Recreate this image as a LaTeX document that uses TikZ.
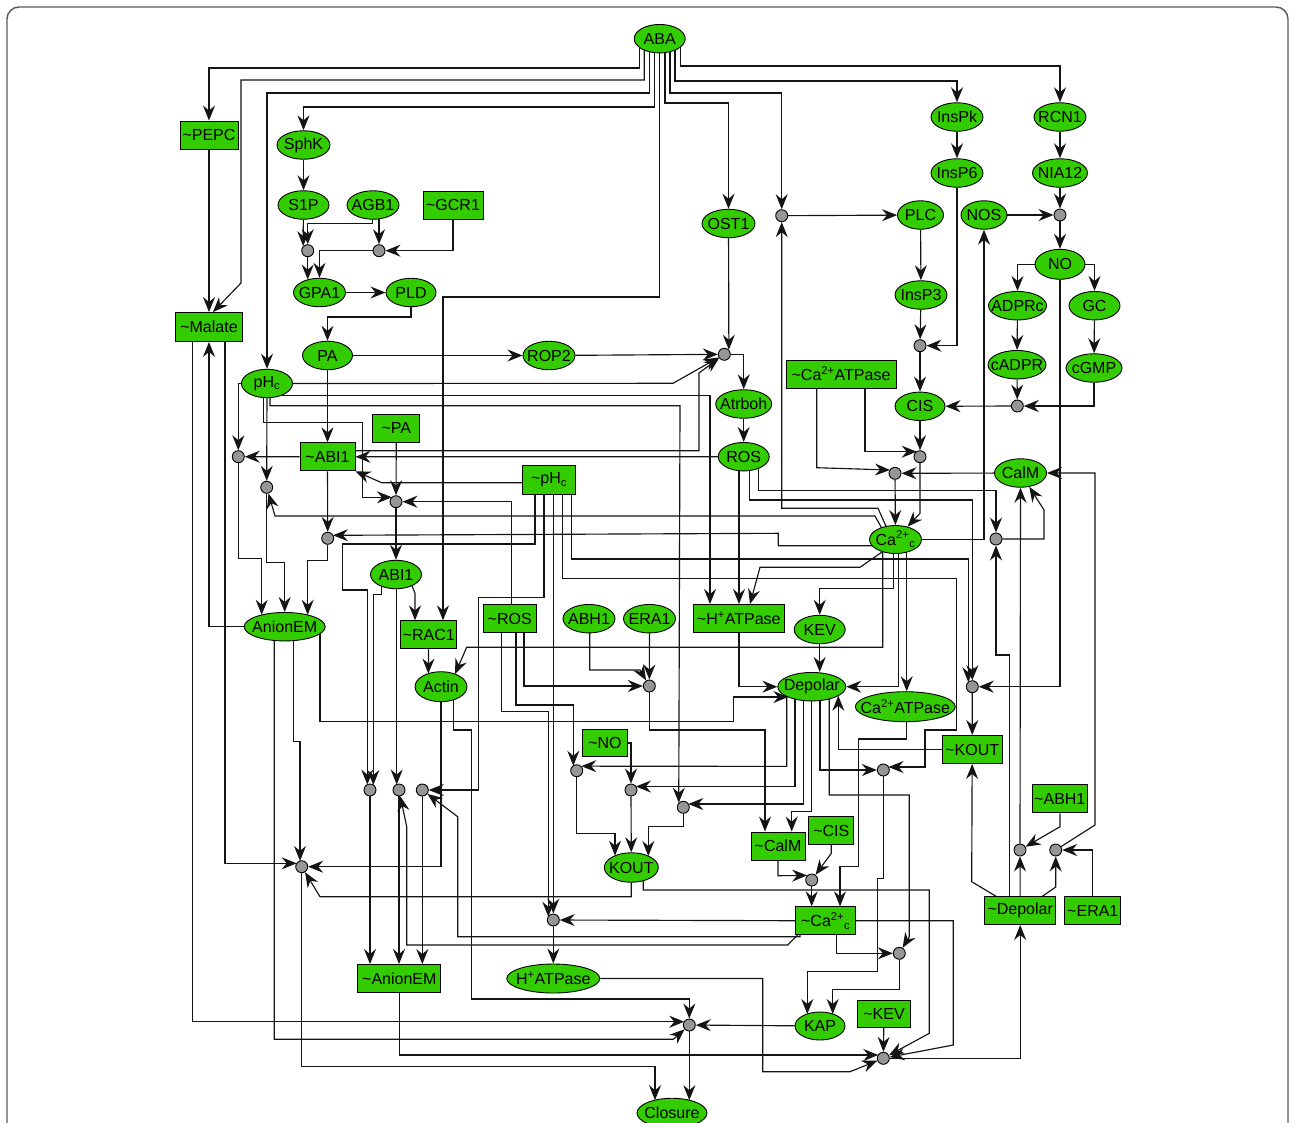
\documentclass[tikz,border=0pt]{standalone}
\usepackage{fontspec}
\setmainfont{Liberation Sans}
\usetikzlibrary{arrows.meta,shapes.geometric,calc,backgrounds}
\definecolor{ngreen}{RGB}{51,204,0}
\definecolor{jgray}{RGB}{150,150,150}
\definecolor{lcol}{RGB}{20,20,20}
\newcommand\tld{\textasciitilde}
\newcommand\nodefnt{\fontsize{16}{18}\selectfont}
\tikzset{
 ov/.style={ellipse, draw=black, line width=0.9pt, fill=ngreen, inner xsep=-12pt, inner ysep=-6pt, minimum height=28.5pt, font=\nodefnt},
 bx/.style={rectangle, draw=black, line width=0.9pt, fill=ngreen, inner xsep=2pt, inner ysep=0pt, minimum height=28pt, font=\nodefnt},
 jn/.style={circle, draw=black, line width=0.9pt, fill=jgray, inner sep=0pt, minimum size=12pt},
 ar/.style={-{Stealth[length=15pt,width=12pt,inset=5pt]}, line width=1.15pt, draw=lcol},
 frm/.style={line width=1.4pt, draw=black!65, rounded corners=12pt}
}
\begin{document}
\begin{tikzpicture}[x=1pt,y=-1pt]
\useasboundingbox (0,0) rectangle (1290,1122);
% ---------------- nodes
\node[ov,minimum width=51] (ABA) at (659.7,38.7) {ABA};
\node[bx,minimum width=58] (PEPC) at (209,135) {\tld PEPC};
\node[ov,minimum width=53] (SphK) at (303.5,145) {SphK};
\node[ov,minimum width=51] (S1P) at (303.5,205) {S1P};
\node[ov,minimum width=52] (AGB1) at (373,205) {AGB1};
\node[bx,minimum width=60] (GCR1) at (453,205) {\tld GCR1};
\node[ov,minimum width=52] (GPA1) at (319.5,292.5) {GPA1};
\node[ov,minimum width=50] (PLD) at (411,292.5) {PLD};
\node[bx,minimum width=67,minimum height=29] (Malate) at (209,327) {\tld Malate};
\node[ov,minimum width=50] (PA) at (327.5,355.5) {PA};
\node[ov,minimum width=52] (ROP2) at (549,355.5) {ROP2};
\node[ov,minimum width=51] (pHc) at (267,383.5) {pH\textsubscript{c}};
\node[bx,minimum width=47] (tPA) at (396.3,428) {\tld PA};
\node[bx,minimum width=55] (tABI1) at (327.5,456.8) {\tld ABI1};
\node[bx,minimum width=53,minimum height=29] (tpHc) at (549,479.7) {\tld pH\textsubscript{c}};
\node[ov,minimum width=51] (ABI1) at (396,574.5) {ABI1};
\node[ov,minimum width=81] (AnionEM) at (284.7,626.7) {AnionEM};
\node[bx,minimum width=56] (RAC1) at (428.7,634.8) {\tld RAC1};
\node[ov,minimum width=52,minimum height=30] (Actin) at (441,686.7) {Actin};
\node[bx,minimum width=53] (tROS) at (509.7,618.5) {\tld ROS};
\node[ov,minimum width=52] (ABH1) at (589,618.7) {ABH1};
\node[ov,minimum width=52] (ERA1) at (649.5,618.7) {ERA1};
\node[bx,minimum width=91] (tHATP) at (738.8,618.5) {\tld H\textsuperscript{+}ATPase};
\node[ov,minimum width=51] (KEV) at (819.7,629.5) {KEV};
\node[ov,minimum width=68] (Depolar) at (811.8,686.7) {Depolar};
\node[ov,minimum width=100,minimum height=30] (CaATP) at (905.3,706.7) {Ca\textsuperscript{2+}ATPase};
\node[bx,minimum width=60] (tKOUT) at (972.2,749.5) {\tld KOUT};
\node[ov,minimum width=53] (OST1) at (728.5,223.5) {OST1};
\node[ov,minimum width=46] (PLC) at (920.5,215) {PLC};
\node[ov,minimum width=52] (InsPk) at (957,117) {InsPk};
\node[ov,minimum width=52] (InsP6) at (957,173) {InsP6};
\node[ov,minimum width=52] (RCN1) at (1060,117) {RCN1};
\node[ov,minimum width=55] (NIA12) at (1060,173) {NIA12};
\node[ov,minimum width=46] (NOS) at (984,215) {NOS};
\node[ov,minimum width=50,minimum height=30] (NO) at (1060,264.3) {NO};
\node[ov,minimum width=58] (ADPRc) at (1017.5,305.7) {ADPRc};
\node[ov,minimum width=51] (GC) at (1094.5,305.7) {GC};
\node[ov,minimum width=58] (cADPR) at (1017,364.7) {cADPR};
\node[ov,minimum width=56] (cGMP) at (1094,368) {cGMP};
\node[ov,minimum width=52] (InsP3) at (921,295) {InsP3};
\node[bx,minimum width=110] (tCaATP) at (841,374) {\tld Ca\textsuperscript{2+}ATPase};
\node[ov,minimum width=50] (CIS) at (920,406.3) {CIS};
\node[ov,minimum width=56] (Atrboh) at (743.7,404) {Atrboh};
\node[ov,minimum width=51] (ROS) at (743.7,456.7) {ROS};
\node[ov,minimum width=52] (CalM) at (1020.5,473) {CalM};
\node[ov,minimum width=52,minimum height=28] (Cac) at (895.5,539.5) {Ca\textsuperscript{2+}\textsubscript{c}};
\node[bx,minimum width=45,minimum height=27] (tNO) at (605,743) {\tld NO};
\node[ov,minimum width=54,minimum height=29.5] (KOUT) at (631.3,867.5) {KOUT};
\node[bx,minimum width=54] (tCalM) at (778,846) {\tld CalM};
\node[bx,minimum width=45] (tCIS) at (831.3,830.5) {\tld CIS};
\node[bx,minimum width=60] (tCac) at (825.7,920.8) {\tld Ca\textsuperscript{2+}\textsubscript{c}};
\node[bx,minimum width=55] (tABH1) at (1059.8,798.8) {\tld ABH1};
\node[bx,minimum width=71] (tDepolar) at (1020.2,910.5) {\tld Depolar};
\node[bx,minimum width=56] (tERA1) at (1092.8,910.5) {\tld ERA1};
\node[bx,minimum width=83] (tAnionEM) at (399.3,978.5) {\tld AnionEM};
\node[ov,minimum width=93,minimum height=29] (HATP) at (553.3,978.5) {H\textsuperscript{+}ATPase};
\node[ov,minimum width=50,minimum height=28] (KAP) at (820,1026) {KAP};
\node[bx,minimum width=53,minimum height=27] (tKEV) at (884,1013.7) {\tld KEV};
\node[ov,minimum width=70,minimum height=29.5] (Closure) at (672,1113) {Closure};
% junctions
\node[jn] (j1) at (307.7,250.7) {};
\node[jn] (j2) at (379,250.7) {};
\node[jn] (j3) at (781.7,215.7) {};
\node[jn] (j4) at (1060,215) {};
\node[jn] (j5) at (724.3,354.3) {};
\node[jn] (j6) at (920,345.7) {};
\node[jn] (j7) at (1017.3,406) {};
\node[jn] (j8) at (920,456.7) {};
\node[jn] (j9) at (895,473.3) {};
\node[jn] (j10) at (238.3,456.7) {};
\node[jn] (j11) at (266.7,487.3) {};
\node[jn] (j12) at (396,501.7) {};
\node[jn] (j13) at (327.7,538.3) {};
\node[jn] (j14) at (996,539) {};
\node[jn] (j15) at (649.3,686) {};
\node[jn] (j16) at (972.3,686.7) {};
\node[jn] (j17) at (576.7,770.7) {};
\node[jn] (j18) at (631,790) {};
\node[jn] (j19) at (683.3,807.3) {};
\node[jn] (j20) at (883.3,770) {};
\node[jn] (j21) at (370,790) {};
\node[jn] (j22) at (399,790) {};
\node[jn] (j23) at (422.3,790) {};
\node[jn] (j24) at (301.7,866.7) {};
\node[jn] (j25) at (811.7,880) {};
\node[jn] (j26) at (1020,850) {};
\node[jn] (j27) at (1055.7,850) {};
\node[jn] (j28) at (553.3,920) {};
\node[jn] (j29) at (899.3,953.3) {};
\node[jn] (j30) at (689.3,1025) {};
\node[jn] (j31) at (883.3,1058.3) {};
% ---------------- connectors
\begin{scope}[on background layer]
\draw[frm] (7,7) rectangle (1288,1170);
% ABA fan
\draw[ar] ($(ABA)+(-20.5,0)$) |- (209,68) -- (PEPC);
\draw[ar] ($(ABA)+(-15.5,0)$) |- (241,80) -- (241,283) -- ($(Malate.north)+(4,0)$);
\draw[ar] ($(ABA)+(-10.5,0)$) |- (267,93) -- (pHc);
\draw[ar] ($(ABA)+(-5,0)$) |- (303.5,107) -- (SphK);
\draw[ar] (ABA) |- (443,297) -- ($(RAC1.north)+(14.3,0)$);
\draw[ar] ($(ABA)+(5.3,0)$) |- (728.5,103) -- (OST1);
\draw[ar] ($(ABA)+(10.3,0)$) |- (781.7,93) -- (j3);
\draw[ar] ($(ABA)+(15.3,0)$) |- (957,81) -- (InsPk);
\draw[ar] ($(ABA)+(20.5,0)$) |- (1060,66) -- (RCN1);
% upper left
\draw[ar] (PEPC) -- (Malate);
\draw[ar] (SphK) -- (S1P);
\draw[ar] (S1P) -- (j1.north west);
\draw[ar] ($(AGB1)+(-0.7,0)$) |- (307.7,223.3) -- (j1);
\draw[ar] ($(AGB1)+(6,0)$) -- (j2);
\draw[ar] (GCR1) |- (j2);
\draw[ar] (j1) -- ($(GPA1)+(-11.8,-12.9)$);
\draw[ar] (j2) -| (GPA1);
\draw[ar] (GPA1) -- (PLD);
\draw[ar] (PLD) |- (327.5,317) -- (PA);
\draw[ar] (PA) -- (ROP2);
\draw[ar] (PA) -- (tABI1);
\draw[ar] (ROP2) -- (j5);
\draw[ar] (OST1) -- (j5.north east);
\draw[ar] (j5) -| (Atrboh);
\draw[ar] (Atrboh) -- (ROS);
\draw[ar] (pHc) -- (673,383.3) -- (j5);
\draw[ar] ($(tABI1)+(0,-6)$) -- (699,450.8) -- (699,373) -- (j5);
\draw[ar] ($(pHc)+(10,12.2)$) -- (710,395.7) -- ($(tHATP.north)+(-28.8,0)$);
\draw[ar] ($(pHc)+(3,10)$) |- (680,405.7) -- (j19.north west);
\draw[ar] (pHc) -| (j10);
\draw[ar] (pHc) -- (j11);
\draw[ar] ($(pHc)+(-3.7,0)$) |- (362.7,422.7) -- (362.7,497.3) -- ($(j12)+(-4.1,-4.4)$);
\draw[ar] (tABI1) -- (j10);
\draw[ar] (ROS) -- (tABI1);
\draw[ar] ($(tpHc)+(0,3)$) -- (381.7,482.7) -- (tABI1.south east);
\draw[ar] (tPA) -- (j12);
\draw[ar] ($(tROS)+(2,0)$) |- (j12);
\draw[ar] (j12) -- (ABI1);
\draw[ar] (tABI1) -- (j13);
% Ca hub
\draw[ar] ($(Cac)+(-10,6.2)$) -- (778.3,545.7) -- (778.3,533.3) -- ($(j13)+(5.2,-3)$);
\draw[ar] ($(Cac)+(-13,-10)$) -- (875,516) -- (275,516) -- (j11);
\draw[ar] ($(Cac)+(-8,-10)$) -- (878,508.3) -- (781.7,508.3) -- (j3);
\draw[ar] ($(tCaATP)+(-24.3,0)$) -- (816.7,467.7) -- ($(j9)+(-5,-3.3)$);
\draw[ar] ($(tCaATP)+(24,0)$) -- (865,451.7) -- ($(j8)+(-3.3,-5)$);
\draw[ar] (CIS) -- (j8);
\draw[ar] (CalM) -- (j9);
\draw[ar] (j9) -- (Cac);
\draw[ar] (j8) -- (920,513.3) -- (Cac);
\draw[ar] (InsP3) -- (j6);
\draw[ar] (InsP6) |- (j6);
\draw[ar] (j6) -- (CIS);
\draw[ar] (PLC) -- (InsP3);
\draw[ar] (j3) -- (PLC);
\draw[ar] (InsPk) -- (InsP6);
\draw[ar] (RCN1) -- (NIA12);
\draw[ar] (NIA12) -- (j4);
\draw[ar] (NOS) -- (j4);
\draw[ar] (j4) -- (NO);
\draw[ar] (NO) -| (ADPRc);
\draw[ar] (NO) -| (GC);
\draw[ar] (ADPRc) -- (cADPR);
\draw[ar] (GC) -- (cGMP);
\draw[ar] (cADPR) -- (j7);
\draw[ar] (cGMP) |- (j7);
\draw[ar] (j7) -- (CIS);
\draw[ar] (Cac) -| (NOS);
\draw[ar] (NO) |- (j16);
\draw[ar] ($(ROS)+(5.6,0)$) |- (972.3,500) -- (j16);
\draw[ar] ($(ROS)+(14.6,0)$) |- (996,490.7) -- (j14);
\draw[ar] ($(ROS)+(-4.7,0)$) -- ($(tHATP.north)+(0.2,0)$);
\draw[ar] ($(tpHc)+(22.7,0)$) |- (968.3,559) -- ($(j16)+(-4,-4.5)$);
\draw[ar] ($(tpHc)+(13.3,0)$) |- (956.7,578.3) |- (925,730) |- ($(j20)+(5.2,-3)$);
\draw[ar] ($(tpHc)+(4.3,0)$) -- (j28);
\draw[ar] ($(tROS)+(-8,0)$) |- (548.3,711.7) -- ($(j28)+(-5,-3.3)$);
\draw[ar] ($(tROS)+(6.3,0)$) |- (573.3,705) -- ($(j17)+(-3.4,-4.9)$);
\draw[ar] ($(tROS)+(14.3,0)$) |- (j15);
\draw[ar] ($(ABH1)+(0.8,0)$) |- (640,670) -- (j15);
\draw[ar] (ERA1) -- (j15);
\draw[ar] (j15) |- (765,730) -- ($(tCalM.north)+(-13,0)$);
\draw[ar] ($(tHATP)+(0.2,0)$) |- (Depolar);
\draw[ar] (KEV) -- (KEV |- Depolar.north);
\draw[ar] ($(Cac)+(2.8,0)$) |- (Depolar);
\draw[ar] ($(AnionEM)+(35.3,0)$) |- (733.3,721.7) -- (733.3,697) -- ($(Depolar)+(-23.5,10.3)$);
\draw[ar] (tKOUT) -- (838.3,749.5) -- ($(Depolar)+(26.5,9.1)$);
\draw[ar] ($(Depolar)+(-25.1,0)$) -- (786.7,766.4) -- (j17.north east);
\draw[ar] ($(Depolar)+(-16.8,0)$) -- (795,786.5) -- ($(j18)+(4.9,-3.5)$);
\draw[ar] ($(Depolar)+(-8.5,0)$) -- (803.3,804) -- ($(j19)+(5,-3.3)$);
\draw[ar] (Depolar) |- (791.7,811.7) -- ($(tCalM.north)+(13.7,0)$);
\draw[ar] ($(Depolar)+(8.2,0)$) |- (j20);
\draw[ar] ($(Depolar)+(17.5,0)$) |- (909.3,795) -- (909.3,936.7) -- (j29);
\draw[ar] ($(Cac)+(-2.2,0)$) |- (819.7,588.3) -- (KEV);
\draw[ar] ($(Cac)+(-12.8,0)$) |- (466.7,647.3) -- ($(Actin)+(14,-12.6)$);
\draw[ar] ($(Cac)+(-7,8)$) -- (860,567.3) -- (760,567.3) -- ($(tHATP.north)+(11.2,0)$);
\draw[ar] ($(Cac)+(11.2,0)$) -- ($(CaATP.north)+(1.4,0)$);
% left column
\draw[ar] ($(tpHc)+(-14,0)$) |- (342.7,544) |- (367.3,590) -- ($(j21)+(-2.7,-5.4)$);
\draw[ar] ($(ABI1)+(-14.3,0)$) |- (373.3,594.3) -- ($(j21)+(3.3,-5)$);
\draw[ar] ($(ABI1)+(0.7,0)$) -- ($(j22)+(-2.3,-5.5)$);
\draw[ar] ($(ABI1)+(15.7,0)$) -- (411.7,585) -- (415,593.3) -- ($(RAC1.north)+(-13.7,0)$);
\draw[ar] (RAC1) -- ($(Actin)+(-12.7,-13.1)$);
\draw[ar] (j10) |- (261.7,558.3) -- ($(AnionEM)+(-23,-11.9)$);
\draw[ar] (j11) |- (284.7,562.7) -- (AnionEM);
\draw[ar] (j13) |- (307.7,560.7) -- ($(AnionEM)+(23,-11.9)$);
\draw[ar] (AnionEM) -| (Malate);
\draw[ar] ($(Malate)+(-16.7,0)$) |- ($(j30)+(-5,-3.3)$);
\draw[ar] ($(Malate)+(16,0)$) |- ($(j24)+(-5,-3.4)$);
\draw[ar] ($(AnionEM)+(-10.4,0)$) |- (673.3,1039.3) -- (j30);
\draw[ar] ($(AnionEM)+(8.6,0)$) |- (300,741.7) -- ($(j24)+(-1.7,-5.8)$);
\draw[ar] (Actin) |- (j24);
\draw[ar] ($(Actin)+(12.3,0)$) |- (471.7,730) |- (689.3,999) -- (j30);
\draw[ar] (KOUT) |- (320,896.7) -- (j24);
\draw[ar] ($(KOUT)+(12,0)$) |- (929.3,890) -- (929.3,1033.3) -- (j31);
\draw[ar] (j24) |- (655,1066.7) -- ($(Closure)+(-17,-12.8)$);
\draw[ar] (j30) -- ($(Closure)+(17.3,-12.8)$);
\draw[ar] (KAP) -- (j30);
\draw[ar] (tAnionEM) |- ($(j31)+(-5,-3.3)$);
\draw[ar] (HATP) -| (762.7,1071.7) -- (850,1071.7) -- (j31);
\draw[ar] (tKEV) -- (j31);
\draw[ar] (tCac) -| (953.3,1045) -- (j31);
\draw[ar] (j31) -| (tDepolar);
\draw[ar] (tCac) -- (j28);
\draw[ar] ($(tCac)+(-24,10)$) -- (787.7,945) -- (406.7,945) -- (406.7,826.7) -- (j22);
\draw[ar] ($(tCac)+(-25,0)$) -- (800,936.7) -- (457.7,936.7) -- (457.7,816.7) -- (j23);
\draw[ar] ($(tCac)+(11,0)$) |- (j29);
\draw[ar] (j25) -- ($(tCac.north)+(-14,0)$);
\draw[ar] ($(CaATP)+(1.4,0)$) |- (858.3,739) |- (840,866.7) -- ($(tCac.north)+(14.3,0)$);
\draw[ar] (tCalM) -- (778,875.7) -- (j25.north west);
\draw[ar] (tCIS) -- (831.3,853.3) -- (j25);
\draw[ar] (tNO) -| (j18);
\draw[ar] (j17) |- (615,833.3) -- ($(KOUT)+(-16.3,-11.8)$);
\draw[ar] (j18) -- (KOUT);
\draw[ar] (j19) |- (648.3,826.7) -- ($(KOUT)+(17,-11.5)$);
\draw[ar] (j20) |- (877.3,878.3) |- (807.3,971.7) -- ($(KAP)+(-12.7,-12)$);
\draw[ar] (j29) |- (832.7,989.3) -- ($(KAP)+(12.7,-12)$);
\draw[ar] (j28) -- (HATP);
\draw[ar] (j21) -- (j21 |- tAnionEM.north);
\draw[ar] (j22) -- (j22 |- tAnionEM.north);
\draw[ar] (j23) -- (j23 |- tAnionEM.north);
\draw[ar] ($(tpHc)+(-5,0)$) |- (478.3,597.7) |- (j23);
% right side
\draw[ar] ($(tDepolar)+(-23.5,0)$) -- (996.7,896.7) -- (971.7,881.7) -- (tKOUT);
\draw[ar] ($(tDepolar)+(-10.5,0)$) |- (996,655) -- (j14);
\draw[ar] (tDepolar) -- (j26);
\draw[ar] ($(tDepolar)+(21.5,0)$) -- (1041.7,896.7) -- (1055.7,887) -- (j27);
\draw[ar] (tABH1) -- (1060,826.7) -- (j26);
\draw[ar] (tERA1) |- (j27);
\draw[ar] (j26) -- (CalM);
\draw[ar] (j27) -- (1095,825) -- (1095,473) -- (CalM);
\draw[ar] (j14) -- (1044,539) -- (1044,510) -- (CalM);
\draw[ar] (j16) -- (tKOUT);
\end{scope}
\end{tikzpicture}
\end{document}
